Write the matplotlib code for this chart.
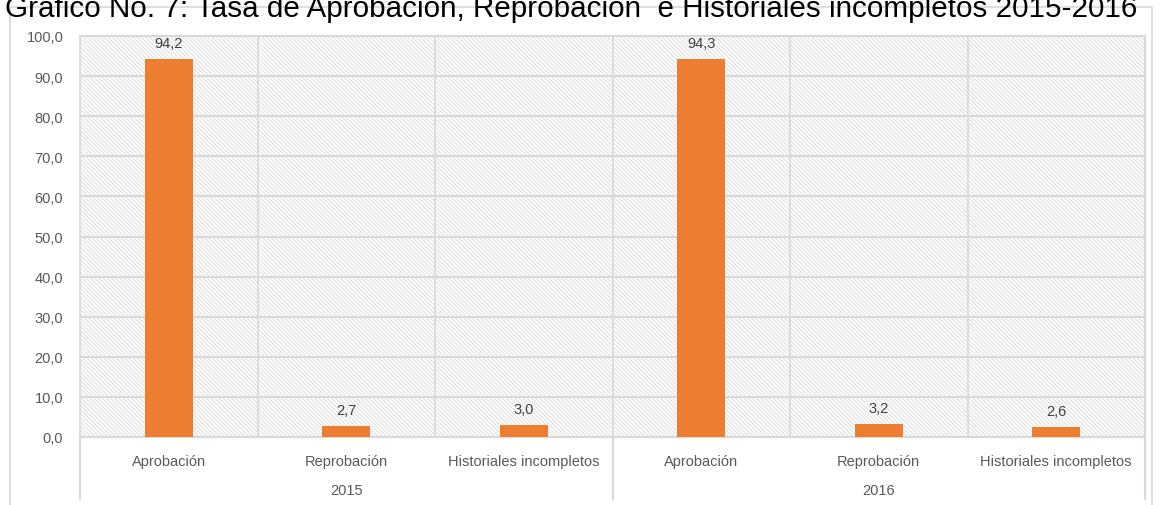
import matplotlib
matplotlib.use("Agg")
import matplotlib.pyplot as plt
import matplotlib.transforms as mtransforms
from matplotlib.patches import Rectangle

plt.rcParams["font.family"] = ["Liberation Sans", "DejaVu Sans"]
plt.rcParams["hatch.color"] = "#dcdcdc"
plt.rcParams["hatch.linewidth"] = 0.7

# datos
years = ["2015", "2016"]
categories = ["Aprobación", "Reprobación", "Historiales incompletos"]
values = [94.2, 2.7, 3.0, 94.3, 3.2, 2.6]
value_labels = ["94,2", "2,7", "3,0", "94,3", "3,2", "2,6"]
yticks = [0, 10, 20, 30, 40, 50, 60, 70, 80, 90, 100]
ytick_labels = ["0,0", "10,0", "20,0", "30,0", "40,0", "50,0", "60,0",
                "70,0", "80,0", "90,0", "100,0"]

TEXT = "#595959"
GRID = "#d9d9d9"
ORANGE = "#ed7d31"

fig = plt.figure(figsize=(11.61, 5.06), dpi=100)

# marco exterior del gráfico
fig.patches.append(Rectangle((10 / 1161, -0.05), 1142 / 1161, 1 - 8 / 506 + 0.05,
                             transform=fig.transFigure, fill=False,
                             edgecolor=GRID, linewidth=1.2))

# el título aparece recortado por arriba en el original
fig.text(5 / 1161, 1 - 17 / 506,
         "Gráfico No. 7: Tasa de Aprobación, Reprobación  e Historiales incompletos 2015-2016",
         fontsize=21.3, color="black", va="baseline", ha="left")

ax = fig.add_axes([80 / 1161, 1 - 438 / 506, 1065 / 1161, 401 / 506])

n = len(values)
x = list(range(n))

ax.set_facecolor("white")
ax.add_patch(Rectangle((0, 0), 1, 1, transform=ax.transAxes, facecolor="white",
                       edgecolor="#dcdcdc", hatch="\\" * 8, linewidth=0, zorder=0))

ax.bar(x, values, width=0.27, color=ORANGE, zorder=3)

for xi, v, lab in zip(x, values, value_labels):
    ax.text(xi, v + 2.2, lab, ha="center", va="bottom", fontsize=10.5, color="#404040")

ax.set_xlim(-0.5, n - 0.5)
ax.set_ylim(0, 100)
ax.set_yticks(yticks)
ax.set_yticklabels(ytick_labels, fontsize=10.5, color=TEXT)
ax.tick_params(axis="y", length=0, pad=12)

ax.set_xticks(x)
ax.set_xticklabels(categories * len(years), fontsize=10.5, color=TEXT)
ax.tick_params(axis="x", length=0, pad=12)
ax.set_xticks([i - 0.5 for i in range(1, n)], minor=True)
ax.tick_params(axis="x", which="minor", length=0)

ax.grid(axis="y", color=GRID, linewidth=1.5, zorder=1)
ax.grid(axis="x", which="minor", color=GRID, linewidth=1.2, zorder=1)
ax.set_axisbelow(True)

ax.spines["left"].set_visible(False)
for s in ["top", "right", "bottom"]:
    ax.spines[s].set_color(GRID)
    ax.spines[s].set_linewidth(1.5)

trans = mtransforms.blended_transform_factory(ax.transData, ax.transAxes)
for xs in [-0.5, 2.5, 5.5]:
    ax.plot([xs, xs], [0, -0.155], color=GRID, linewidth=1.5,
            transform=trans, clip_on=False)
ax.plot([-0.5, -0.5], [0, 1], color=GRID, linewidth=1.2, transform=trans, clip_on=False)

n_cat = len(categories)
for i, yr in enumerate(years):
    ax.text(i * n_cat + (n_cat - 1) / 2, -0.132, yr, transform=trans,
            ha="center", va="center", fontsize=10.5, color=TEXT)

fig.savefig("out.png", dpi=100)
